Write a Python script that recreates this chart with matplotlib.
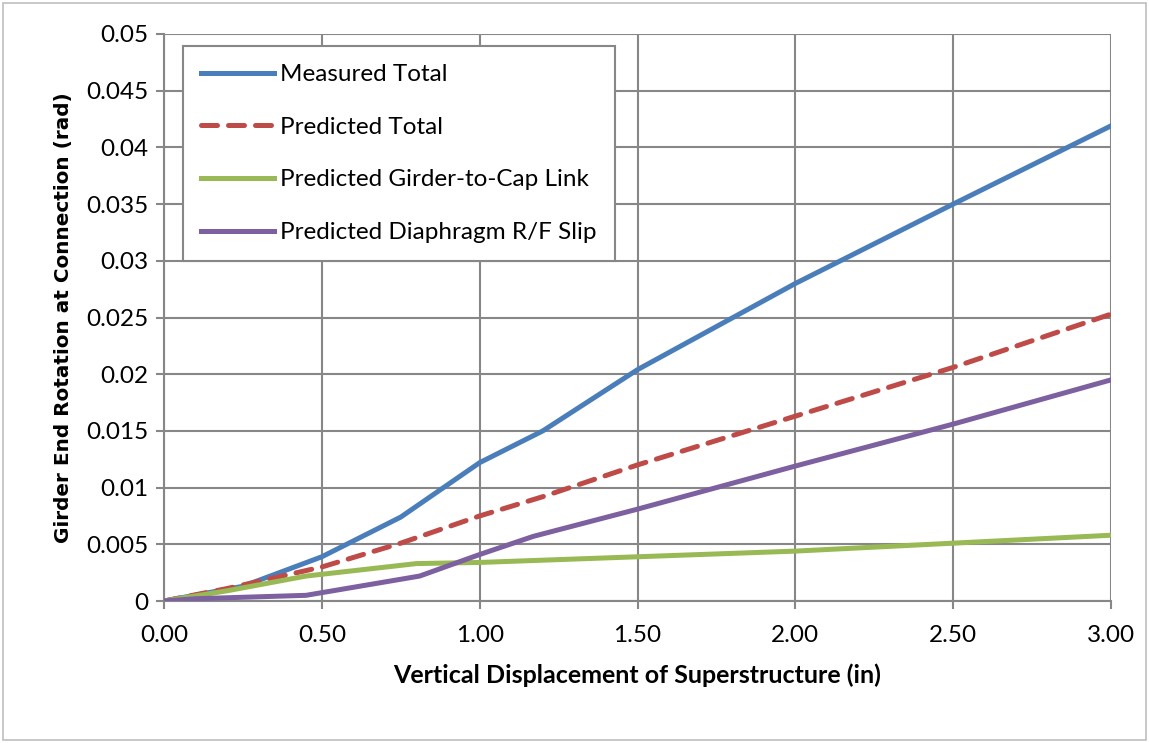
import matplotlib
matplotlib.use("Agg")
import matplotlib.pyplot as plt
from matplotlib.patches import Rectangle

plt.rcParams['font.family'] = ['Lato', 'DejaVu Sans']

measured_x = [0.0, 0.25, 0.5, 0.75, 1.0, 1.2, 1.5, 2.0, 2.5, 3.0]
measured_y = [0.0, 0.0013, 0.0039, 0.0074, 0.0122, 0.0150, 0.0204, 0.0280, 0.0350, 0.0419]

pred_total_x = [0.0, 0.2, 0.5, 0.75, 1.0, 1.2, 1.5, 2.0, 2.5, 3.0]
pred_total_y = [0.0, 0.0011, 0.0030, 0.0051, 0.0075, 0.0092, 0.0120, 0.0163, 0.0206, 0.0253]

link_x = [0.0, 0.2, 0.45, 0.8, 1.0, 1.5, 2.0, 2.5, 3.0]
link_y = [0.0, 0.0009, 0.0022, 0.0033, 0.0034, 0.0039, 0.0044, 0.0051, 0.0058]

slip_x = [0.0, 0.1, 0.45, 0.81, 1.0, 1.17, 1.5, 2.0, 2.5, 3.0]
slip_y = [0.0, 0.0002, 0.0005, 0.0022, 0.0041, 0.0057, 0.0081, 0.0119, 0.0156, 0.0195]

labels = ["Measured Total", "Predicted Total", "Predicted Girder-to-Cap Link",
          "Predicted Diaphragm R/F Slip"]
colors = ["#4A7EBB", "#BE4B48", "#98B954", "#7D60A0"]

x_ticks = [0.0, 0.5, 1.0, 1.5, 2.0, 2.5, 3.0]
x_tick_labels = ["0.00", "0.50", "1.00", "1.50", "2.00", "2.50", "3.00"]
y_ticks = [0, 0.005, 0.01, 0.015, 0.02, 0.025, 0.03, 0.035, 0.04, 0.045, 0.05]
y_tick_labels = ["0", "0.005", "0.01", "0.015", "0.02", "0.025", "0.03", "0.035",
                 "0.04", "0.045", "0.05"]

fig = plt.figure(figsize=(11.49, 7.43), dpi=100)
ax = fig.add_axes([164/1149, 1-601/743, (1111-164)/1149, (601-34)/743])

grid_c = "#878787"
lw = 3.6
ax.plot(measured_x, measured_y, color=colors[0], lw=lw, label=labels[0], zorder=3)
ax.plot(pred_total_x, pred_total_y, color=colors[1], lw=lw, label=labels[1],
        dashes=(3.2, 2.2), dash_capstyle='round', zorder=3)
ax.plot(link_x, link_y, color=colors[2], lw=lw, label=labels[2], zorder=3)
ax.plot(slip_x, slip_y, color=colors[3], lw=lw, label=labels[3], zorder=3)

ax.set_xlim(0, 3)
ax.set_ylim(0, 0.05)
ax.set_xticks(x_ticks)
ax.set_xticklabels(x_tick_labels)
ax.set_yticks(y_ticks)
ax.set_yticklabels(y_tick_labels)
ax.grid(True, color=grid_c, lw=1.5)
ax.set_axisbelow(True)
for s in ["top", "right"]:
    ax.spines[s].set_visible(False)
for s in ["left", "bottom"]:
    ax.spines[s].set_color(grid_c)
    ax.spines[s].set_linewidth(1.5)
ax.tick_params(axis='both', colors=grid_c, width=1.5, length=6, labelsize=17.5,
               labelcolor='black')
ax.tick_params(axis='x', pad=11)
ax.tick_params(axis='y', pad=5)

ax.set_xlabel("Vertical Displacement of Superstructure (in)", fontsize=18,
              fontweight='bold', labelpad=13)
ax.set_ylabel("Girder End Rotation at Connection (rad)", fontsize=14.4,
              fontweight='bold', labelpad=10, family=['DejaVu Sans'])

leg = ax.legend(loc='upper left', bbox_to_anchor=(19/947, 1-12/567), fontsize=17.5,
                frameon=True, fancybox=False, handlelength=3.0, handletextpad=0.25,
                labelspacing=1.3, borderpad=0.75, borderaxespad=0)
leg.get_frame().set_edgecolor(grid_c)
leg.get_frame().set_linewidth(1.5)
leg.get_frame().set_alpha(1)

fig.patches.append(Rectangle((3/1149, 3/743), 1-6/1149, 1-6/743, transform=fig.transFigure,
                             fill=False, edgecolor="#BFBFBF", lw=1.2))

fig.savefig("out.png", dpi=100)
